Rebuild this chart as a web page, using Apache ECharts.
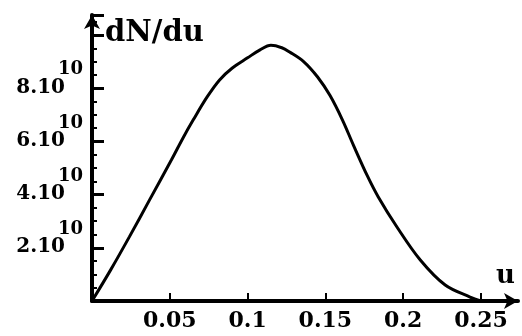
<!DOCTYPE html>
<html>
<head>
<meta charset="utf-8">
<script src="https://cdn.jsdelivr.net/npm/echarts@6/dist/echarts.min.js"></script>
<style>
  html, body { margin: 0; padding: 0; background: #fff; }
  #chart { width: 522px; height: 336px; }
</style>
</head>
<body>
<div id="chart"></div>
<script>
// u values and dN/du (in units of 10^10)
const uVals = [0, 0.012, 0.024, 0.037, 0.051, 0.0585, 0.065, 0.074, 0.082, 0.090, 0.100, 0.108, 0.115, 0.122, 0.127, 0.136, 0.145, 0.153, 0.161, 0.168, 0.177, 0.184, 0.196, 0.211, 0.227, 0.243, 0.25];
const dnVals = [0, 1.17, 2.41, 3.80, 5.30, 6.13, 6.80, 7.67, 8.31, 8.75, 9.14, 9.44, 9.61, 9.52, 9.36, 9.0, 8.42, 7.72, 6.80, 5.86, 4.70, 3.91, 2.78, 1.54, 0.60, 0.15, 0];

const xTickLabels = ['0.05', '0.1', '0.15', '0.2', '0.25'];
const yTickLabels = ['2.10', '4.10', '6.10', '8.10'];
const yExponent = '10';

const serif = '"DejaVu Serif", "Liberation Serif", serif';

const myChart = echarts.init(document.getElementById('chart'));

const option = {
  backgroundColor: '#fff',
  animation: false,
  title: [
    {
      text: 'dN/du',
      left: 100,
      top: 14,
      textStyle: { fontFamily: serif, fontWeight: 'bold', fontSize: 29, color: '#000' },
    },
    {
      text: 'u',
      left: 491,
      top: 258,
      textStyle: { fontFamily: serif, fontWeight: 'bold', fontSize: 26, color: '#000' },
    },
  ],
  grid: {
    left: 92,
    right: 4,
    top: 15,
    bottom: 35,
  },
  xAxis: {
    type: 'value',
    min: 0,
    max: 0.2738,
    interval: 0.05,
    splitLine: { show: false },
    axisLine: {
      show: true,
      symbol: ['none', 'arrow'],
      symbolSize: [12, 14],
      lineStyle: { color: '#000', width: 4 },
    },
    axisTick: {
      show: true,
      inside: true,
      length: 8,
      lineStyle: { color: '#000', width: 2 },
    },
    axisLabel: {
      margin: 9,
      showMaxLabel: false,
      fontFamily: serif,
      fontWeight: 'bold',
      fontSize: 22,
      color: '#000',
      formatter: (v) => {
        const i = Math.round(v / 0.05) - 1;
        return i >= 0 && i < xTickLabels.length && Math.abs(v - (i + 1) * 0.05) < 1e-6 ? xTickLabels[i] : '';
      },
    },
  },
  yAxis: {
    type: 'value',
    min: 0,
    max: 10.75,
    interval: 2,
    splitLine: { show: false },
    axisLine: {
      show: true,
      symbol: ['none', 'arrow'],
      symbolSize: [12, 14],
      lineStyle: { color: '#000', width: 4 },
    },
    axisTick: {
      show: true,
      inside: true,
      length: 12,
      lineStyle: { color: '#000', width: 3 },
    },
    minorTick: {
      show: true,
      splitNumber: 4,
      length: 5,
      lineStyle: { color: '#000', width: 2 },
    },
    axisLabel: {
      margin: 9,
      showMaxLabel: false,
      formatter: (v) => {
        const i = Math.round(v / 2) - 1;
        if (i < 0 || i >= yTickLabels.length || Math.abs(v - (i + 1) * 2) > 1e-6) return '';
        return '{s|' + yExponent + '}\n{m|' + yTickLabels[i] + '}\n{e| }';
      },
      rich: {
        s: { fontFamily: serif, fontWeight: 'bold', fontSize: 18, color: '#000', lineHeight: 16 },
        m: { fontFamily: serif, fontWeight: 'bold', fontSize: 20, color: '#000', lineHeight: 20, padding: [0, 18, 0, 0] },
        e: { fontSize: 10, lineHeight: 17 },
      },
    },
  },
  series: [
    {
      type: 'line',
      data: uVals.map((u, i) => [u, dnVals[i]]),
      smooth: 0.35,
      symbol: 'none',
      lineStyle: { color: '#000', width: 3 },
    },
  ],
};

myChart.setOption(option);
</script>
</body>
</html>
